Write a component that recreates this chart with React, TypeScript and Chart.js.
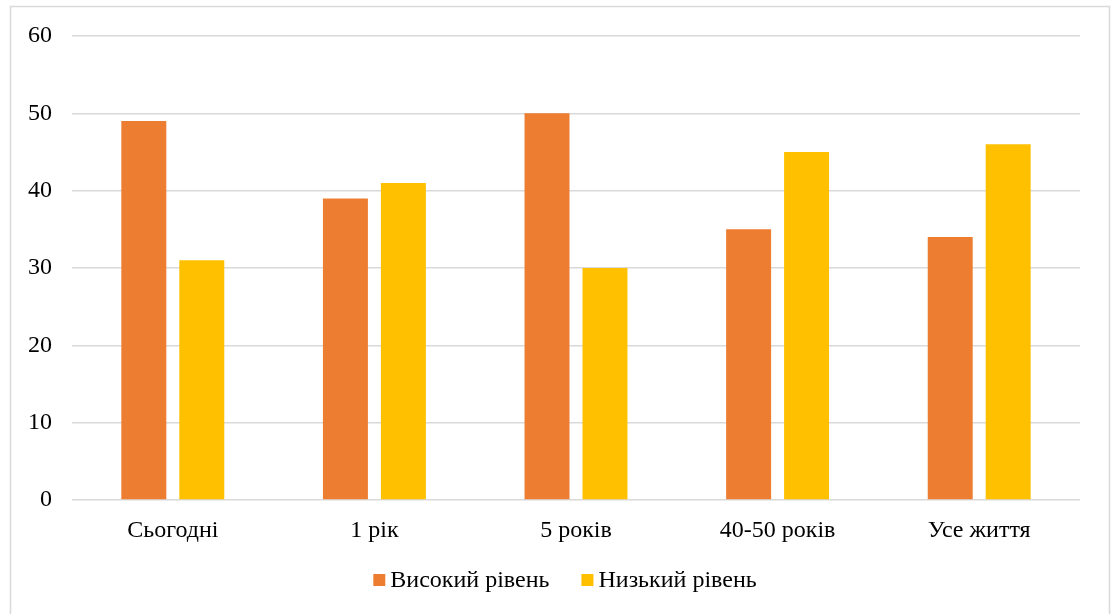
import React, { useEffect, useRef } from "react";
import { Chart, registerables } from "chart.js";

Chart.register(...registerables);

const categories = ["Сьогодні", "1 рік", "5 років", "40-50 років", "Усе життя"];
const highLevel = [49, 39, 50, 35, 34];
const lowLevel = [31, 41, 30, 45, 46];
const seriesNames = ["Високий рівень", "Низький рівень"];
const seriesColors = ["#ED7D31", "#FFC000"];
const yTicks = { min: 0, max: 60, step: 10 };

const FONT = "'Liberation Serif', 'Times New Roman', serif";

const borderPlugin = {
  id: "outerBorder",
  beforeDraw(chart: any) {
    const ctx = chart.ctx;
    ctx.save();
    ctx.strokeStyle = "#D9D9D9";
    ctx.lineWidth = 1.5;
    ctx.strokeRect(10.5, 6.5, 1099, 700);
    ctx.restore();
  },
};

// Legend drawn from the chart's datasets (box 12px, 5px gap to text, 32px between items)
const bottomLegendPlugin = {
  id: "bottomLegend",
  afterDraw(chart: any) {
    const ctx = chart.ctx;
    ctx.save();
    ctx.font = `24px ${FONT}`;
    ctx.textBaseline = "middle";
    const box = 12;
    const gap = 5;
    const itemGap = 32;
    const items = chart.data.datasets.map((ds: any) => ({
      text: ds.label,
      color: ds.backgroundColor,
      w: box + gap + ctx.measureText(ds.label).width,
    }));
    const total = items.reduce((s: number, it: any) => s + it.w, 0) + itemGap * (items.length - 1);
    const cx = (chart.chartArea.left + chart.chartArea.right) / 2 - 11;
    const cy = 580;
    let x = cx - total / 2;
    items.forEach((it: any) => {
      ctx.fillStyle = it.color;
      ctx.fillRect(x, cy - box / 2, box, box);
      ctx.fillStyle = "#000";
      ctx.fillText(it.text, x + box + gap, cy + 1);
      x += it.w + itemGap;
    });
    ctx.restore();
  },
};

export default function App() {
  const ref = useRef<HTMLCanvasElement | null>(null);
  useEffect(() => {
    document.body.style.margin = "0";
    const canvas = ref.current!;
    const chart = new Chart(canvas, {
      type: "bar",
      data: {
        labels: categories,
        datasets: [
          {
            label: seriesNames[0],
            data: highLevel,
            backgroundColor: seriesColors[0],
            categoryPercentage: 0.575,
            barPercentage: 0.776,
          },
          {
            label: seriesNames[1],
            data: lowLevel,
            backgroundColor: seriesColors[1],
            categoryPercentage: 0.575,
            barPercentage: 0.776,
          },
        ],
      },
      options: {
        animation: false,
        responsive: false,
        devicePixelRatio: 1,
        layout: { padding: { left: 0, right: 34, top: 36, bottom: 72 } },
        plugins: {
          tooltip: { enabled: false },
          legend: { display: false },
        },
        scales: {
          x: {
            grid: { display: false, drawTicks: false },
            border: { display: false },
            ticks: { color: "#000", font: { family: FONT, size: 24 }, padding: 16, maxRotation: 0 },
            afterFit(scale: any) {
              scale.height = 42;
            },
          },
          y: {
            min: yTicks.min,
            max: yTicks.max,
            grid: { color: "#D9D9D9", lineWidth: 1.5, drawTicks: false },
            border: { display: false },
            ticks: {
              stepSize: yTicks.step,
              color: "#000",
              font: { family: FONT, size: 24 },
              padding: 20,
            },
            afterFit(scale: any) {
              scale.width = 72;
            },
          },
        },
      },
      plugins: [borderPlugin, bottomLegendPlugin],
    });
    return () => chart.destroy();
  }, []);
  return (
    <div style={{ width: 1114, height: 614, overflow: "hidden" }}>
      <canvas ref={ref} width={1114} height={614} style={{ display: "block" }} />
    </div>
  );
}
